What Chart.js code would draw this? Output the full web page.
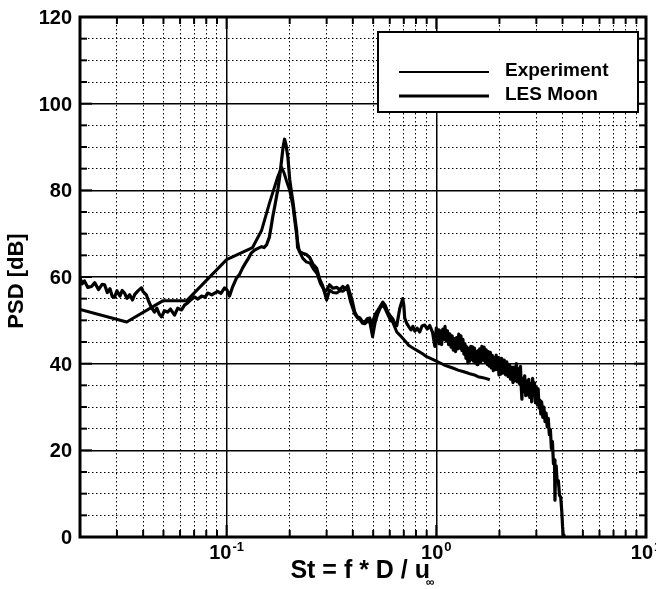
<!DOCTYPE html>
<html><head><meta charset="utf-8">
<script src="https://cdn.jsdelivr.net/npm/chart.js@4.4.1/dist/chart.umd.min.js"></script>
<style>html,body{margin:0;padding:0;background:#fff}canvas{display:block}</style>
</head><body>
<canvas id="c" width="656" height="589"></canvas>
<script>
// ---- data ----
const expSt = [0.02,0.0205,0.021,0.0218,0.0227,0.0235,0.0245,0.0255,0.0262,0.027,0.0278,0.0285,0.0292,0.030,0.031,0.0318,0.0326,0.0335,0.0345,0.0356,0.0365,0.0378,0.0393,0.040,0.0415,0.0425,0.0438,0.0453,0.0465,0.0478,0.049,0.0505,0.0523,0.054,0.0565,0.0585,0.061,0.063,0.0651,0.067,0.0703,0.073,0.076,0.079,0.0812,0.085,0.0906,0.094,0.0978,0.1005,0.1033,0.107,0.1116,0.115,0.119,0.123,0.126,0.131,0.136,0.141,0.147,0.151,0.155,0.160,0.163,0.166,0.170,0.173,0.176,0.179,0.183,0.186,0.189,0.192,0.196,0.200,0.204,0.207,0.212,0.216,0.218,0.224,0.231,0.240,0.249,0.258,0.269,0.278,0.287,0.294,0.300,0.310,0.322,0.335,0.347,0.358,0.368,0.378,0.386,0.395,0.408,0.420,0.431,0.443,0.456,0.469,0.482,0.490,0.500,0.513,0.526,0.540,0.556,0.570,0.587,0.600,0.620,0.635,0.648,0.660,0.670,0.682,0.692,0.700,0.707,0.723,0.740,0.757,0.773,0.790,0.810,0.834,0.855,0.881,0.905,0.931,0.960,0.984,
1.00,1.01,1.02,1.03,1.045,1.06,1.075,1.09,1.10,1.115,1.13,1.145,1.16,1.175,1.19,1.205,1.22,1.235,1.25,1.265,1.28,1.295,1.31,1.325,1.34,1.355,1.37,1.385,1.40,1.415,1.43,1.445,1.46,1.475,1.49,1.505,1.52,1.535,1.55,1.565,1.58,1.595,1.61,1.63,1.65,1.67,1.69,1.71,1.73,1.75,1.77,1.79,1.81,1.83,1.85,1.87,1.89,1.91,1.93,1.95,1.97,1.99,2.01,2.03,2.05,2.08,2.11,2.14,2.17,2.20,2.23,2.26,2.29,2.32,2.35,2.38,2.41,2.44,2.47,2.50,2.52,2.54,2.56,2.58,2.61,2.64,2.67,2.70,2.73,2.76,2.79,2.82,2.85,2.88,2.91,2.94,2.97,3.00,3.03,3.06,3.09,3.12,3.15,3.18,3.22,3.26,3.30,3.34,3.38,3.42,3.46,3.50,3.54,3.58,3.62,3.66,3.68,3.70,3.73,3.77,3.82,3.87,3.92,3.97,4.00,4.03,4.06];
const expPsd = [59.8,58.4,59.1,57.6,57.8,58.7,57.1,58.3,58.2,56.4,57.3,55.5,55.3,56.8,55.6,56.9,56.3,55.1,55.9,54.7,56.0,56.8,57.5,56.6,55.8,54.4,53.0,51.9,52.8,51.4,50.8,52.2,51.9,52.6,51.2,52.8,52.4,53.5,54.0,54.6,55.4,54.9,55.6,55.3,56.3,55.9,56.7,56.2,57.5,57.0,55.6,57.8,59.8,60.5,62.0,63.2,64.0,65.5,66.2,66.6,67.0,66.8,67.4,69.2,71.5,73.9,76.5,78.5,80.5,83.0,87.0,90.0,91.8,90.5,87.7,82.5,79.5,77.5,73.5,70.5,66.8,65.8,65.5,65.2,64.5,63.0,62.0,59.5,58.0,56.5,57.0,58.2,57.4,57.6,57.1,57.8,57.3,58.0,56.5,55.0,52.0,50.8,50.6,49.8,49.6,50.4,50.5,48.5,50.0,51.5,52.3,53.2,54.2,53.5,51.9,51.2,50.3,49.2,48.8,51.0,52.8,54.0,55.0,53.5,50.5,49.3,48.5,47.8,48.6,47.5,48.2,47.3,48.7,48.9,48.0,48.8,47.2,44.0,
48.2,45.2,47.8,44.6,47.6,44.4,48.0,45.6,48.6,45.2,47.6,44.4,46.9,43.8,46.4,43.1,45.8,42.8,46.0,43.4,46.8,43.6,46.4,43.0,45.6,42.2,44.6,41.2,43.9,40.2,43.4,40.6,44.0,41.0,43.9,40.6,43.6,40.2,42.8,39.8,43.0,40.2,43.4,40.4,44.0,40.8,43.8,40.4,43.2,39.8,42.8,39.4,42.6,39.0,41.9,38.4,41.4,38.6,42.0,38.6,41.4,37.4,40.6,37.6,41.2,37.8,40.8,37.4,40.4,37.0,39.8,36.4,39.2,35.6,39.2,36.0,40.0,35.8,38.8,35.2,39.4,34.8,31.8,36.6,33.6,37.2,32.6,36.0,32.8,36.4,32.2,35.4,31.2,36.6,32.6,35.6,31.0,34.6,30.6,34.2,29.8,31.6,28.4,31.2,27.6,30.0,26.6,28.6,25.4,27.4,23.6,24.8,20.4,22.0,16.9,17.8,8.5,14.2,16.4,12.8,13.0,9.6,9.2,5.6,2.5,0.5,0.0];
const lesSt = [0.02,0.0334,0.0496,0.0644,0.100,0.133,0.147,0.160,0.175,0.183,0.188,0.193,0.200,0.207,0.212,0.216,0.222,0.231,0.240,0.250,0.260,0.270,0.280,0.290,0.300,0.310,0.322,0.335,0.347,0.358,0.370,0.378,0.390,0.408,0.420,0.431,0.445,0.456,0.470,0.482,0.497,0.510,0.526,0.540,0.556,0.570,0.587,0.605,0.620,0.648,0.670,0.700,0.740,0.780,0.820,0.860,0.900,0.950,1.000,1.050,1.100,1.150,1.200,1.270,1.340,1.400,1.460,1.520,1.580,1.650,1.720,1.800];
const lesPsd = [52.5,49.6,54.5,54.5,64.0,66.8,70.8,77.0,83.0,85.3,84.0,82.2,80.0,76.5,72.5,69.5,66.0,64.3,63.5,63.2,61.8,60.8,58.5,57.2,54.7,57.0,56.4,56.3,56.8,56.7,57.2,57.0,54.3,51.5,50.6,50.2,49.3,49.2,49.8,49.5,46.2,49.3,51.5,52.8,53.6,52.7,51.3,50.0,49.6,47.3,46.6,45.6,44.2,43.5,42.9,42.3,41.6,41.1,40.6,40.1,39.6,39.3,39.0,38.5,38.2,37.9,37.6,37.4,37.0,36.8,36.6,36.3];
const seriesNames = ['Experiment', 'LES Moon'];
const yTickValues = [0, 20, 40, 60, 80, 100, 120];
const yTickLabels = ['0', '20', '40', '60', '80', '100', '120'];
const xTickValues = [0.1, 1, 10];
const xTickExps = ['-1', '0', '1'];
const xTitle = 'St = f * D / u';
const xTitleSub = '\u221E';
const yTitle = 'PSD [dB]';
const xMin = 0.02, xMax = 10, yMin = 0, yMax = 120, yMinorStep = 5, yMajorStep = 20;

// ---- helpers ----
const FF = "'Liberation Sans', Arial, Helvetica, sans-serif";
function isMajorX(v) { const l = Math.log10(v); return Math.abs(l - Math.round(l)) < 1e-6; }
function isMajorY(v) { return Math.abs(v % yMajorStep) < 1e-6; }
const xGrid = [];
for (let e = -2; e <= 0; e++) for (let m = 1; m <= 9; m++) {
  const v = +(m * Math.pow(10, e)).toPrecision(6);
  if (v >= xMin && v <= xMax) xGrid.push(v);
}
xGrid.push(xMax);
const yGrid = [];
for (let v = yMin; v <= yMax; v += yMinorStep) yGrid.push(v);

const decor = {
  id: 'decor',
  afterDraw(chart) {
    const { ctx, chartArea: a, scales: { x, y } } = chart;
    ctx.save();
    const seg = (x1, y1, x2, y2) => { ctx.beginPath(); ctx.moveTo(x1, y1); ctx.lineTo(x2, y2); ctx.stroke(); };
    ctx.strokeStyle = '#000';
    ctx.lineWidth = 2;
    xGrid.forEach(v => {
      const px = x.getPixelForValue(v); const L = isMajorX(v) ? 12 : 7;
      seg(px, a.bottom, px, a.bottom - L); seg(px, a.top, px, a.top + L);
    });
    yGrid.forEach(v => {
      const py = y.getPixelForValue(v); const L = isMajorY(v) ? 12 : 7;
      seg(a.left, py, a.left + L, py); seg(a.right, py, a.right - L, py);
    });
    ctx.lineWidth = 3;
    ctx.strokeRect(a.left, a.top, a.right - a.left, a.bottom - a.top);

    ctx.fillStyle = '#000';
    // y tick labels
    ctx.font = 'bold 20px ' + FF; ctx.textAlign = 'right'; ctx.textBaseline = 'alphabetic';
    yTickValues.forEach((v, i) => { ctx.fillText(yTickLabels[i], a.left - 8, y.getPixelForValue(v) + 7); });
    // x tick labels (10 with exponent)
    ctx.textAlign = 'left';
    xTickValues.forEach((v, i) => {
      const px = x.getPixelForValue(v);
      ctx.font = 'bold 20px ' + FF; const wb = ctx.measureText('10').width;
      ctx.font = 'bold 13px ' + FF; const we = ctx.measureText(xTickExps[i]).width;
      const x0 = px - (wb + we + 1) / 2;
      ctx.font = 'bold 20px ' + FF; ctx.fillText('10', x0, a.bottom + 22);
      ctx.font = 'bold 13px ' + FF; ctx.fillText(xTickExps[i], x0 + wb + 1, a.bottom + 14);
    });
    // x title
    ctx.font = 'bold 25px ' + FF; const wt = ctx.measureText(xTitle).width;
    ctx.font = 'bold 12px ' + FF; const ws = ctx.measureText(xTitleSub).width;
    const cx = (a.left + a.right) / 2; const tx = cx - (wt + ws - 3) / 2;
    ctx.font = 'bold 25px ' + FF; ctx.fillText(xTitle, tx, a.bottom + 41);
    ctx.font = 'bold 12px ' + FF; ctx.fillText(xTitleSub, tx + wt - 4, a.bottom + 49);
    // y title
    ctx.save();
    ctx.translate(17, (a.top + a.bottom) / 2 + 4); ctx.rotate(-Math.PI / 2);
    ctx.font = 'bold 22px ' + FF; ctx.textAlign = 'center'; ctx.textBaseline = 'middle';
    ctx.fillText(yTitle, 0, 0);
    ctx.restore();
    // legend
    const L = { x: 378, y: 32, w: 260, h: 80 };
    ctx.fillStyle = '#fff'; ctx.fillRect(L.x, L.y, L.w, L.h);
    ctx.lineWidth = 2; ctx.strokeStyle = '#000'; ctx.strokeRect(L.x, L.y, L.w, L.h);
    const widths = [2, 3];
    const rows = [L.y + 40, L.y + 64];
    ctx.fillStyle = '#000'; ctx.font = 'bold 19px ' + FF; ctx.textAlign = 'left'; ctx.textBaseline = 'middle';
    seriesNames.forEach((n, i) => {
      ctx.lineWidth = widths[i]; seg(L.x + 21, rows[i], L.x + 111, rows[i]);
      ctx.fillText(n, L.x + 127, rows[i] - 1);
    });
    ctx.restore();
  }
};

const gridLW = c => (c.tick && (c.scale.axis === 'x' ? isMajorX(c.tick.value) : isMajorY(c.tick.value))) ? 1.5 : 1;
const gridDash = c => (c.tick && !(c.scale.axis === 'x' ? isMajorX(c.tick.value) : isMajorY(c.tick.value))) ? [1.5, 2.5] : [];

new Chart(document.getElementById('c'), {
  type: 'line',
  data: {
    datasets: [
      { label: seriesNames[0], data: expSt.map((s, i) => ({ x: s, y: expPsd[i] })), borderColor: '#000', borderWidth: 3.2, pointRadius: 0, tension: 0, borderJoinStyle: 'round' },
      { label: seriesNames[1], data: lesSt.map((s, i) => ({ x: s, y: lesPsd[i] })), borderColor: '#000', borderWidth: 3, pointRadius: 0, tension: 0, borderJoinStyle: 'round' }
    ]
  },
  options: {
    responsive: false, animation: false, devicePixelRatio: 1,
    layout: { padding: { left: 80, top: 17, right: 10, bottom: 52 } },
    plugins: { legend: { display: false }, tooltip: { enabled: false } },
    scales: {
      x: {
        type: 'logarithmic', min: xMin, max: xMax,
        afterBuildTicks: ax => { ax.ticks = xGrid.map(v => ({ value: v, major: isMajorX(v) })); },
        ticks: { display: false },
        grid: { drawTicks: false, color: '#000', lineWidth: gridLW },
        border: { display: false, dash: gridDash }
      },
      y: {
        type: 'linear', min: yMin, max: yMax,
        afterBuildTicks: ax => { ax.ticks = yGrid.map(v => ({ value: v, major: isMajorY(v) })); },
        ticks: { display: false },
        grid: { drawTicks: false, color: '#000', lineWidth: gridLW },
        border: { display: false, dash: gridDash }
      }
    }
  },
  plugins: [decor]
});
</script>
</body></html>
